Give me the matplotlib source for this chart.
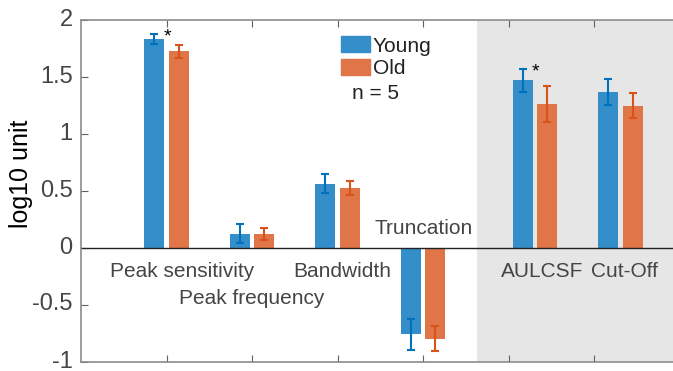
import numpy as np
import matplotlib
matplotlib.use("Agg")
import matplotlib.pyplot as plt
import matplotlib.transforms as mtransforms
from matplotlib.patches import Patch

plt.rcParams["font.family"] = ["Liberation Sans", "DejaVu Sans"]

# CSF parameters, young vs old observers (log10 units, mean +/- error)
groups = ["Peak sensitivity", "Peak frequency", "Bandwidth", "Truncation",
          "AULCSF", "Cut-Off"]
group_x = np.array([1.0, 2.0, 3.0, 4.0, 5.31, 6.31])
young_mean = np.array([1.83, 0.12, 0.56, -0.76, 1.465, 1.365])
young_err = np.array([0.041, 0.083, 0.086, 0.137, 0.098, 0.117])
old_mean = np.array([1.72, 0.12, 0.52, -0.80, 1.26, 1.245])
old_err = np.array([0.06, 0.054, 0.062, 0.111, 0.158, 0.111])
significant = ["Peak sensitivity", "AULCSF"]

# label anchor points (x, y in data units)
label_pos = {
    "Peak sensitivity": (1.18, -0.21),
    "Peak frequency": (2.0, -0.45),
    "Bandwidth": (3.05, -0.21),
    "Truncation": (4.01, 0.17),
    "AULCSF": (5.39, -0.21),
    "Cut-Off": (6.36, -0.21),
}

blue, blue_dark = "#338eca", "#0072bd"
orange, orange_dark = "#e07547", "#d95319"
text_col = "#454545"

fig = plt.figure(figsize=(6.73, 3.71), dpi=100)
ax = fig.add_axes([81 / 673, 9.5 / 371, 598.5 / 673, 342 / 371])

off, w = 0.146, 0.234
ax.axvspan(4.63, 7.0, color="#e6e6e6", zorder=0, lw=0)
ax.bar(group_x - off, young_mean, w, color=blue, zorder=2)
ax.bar(group_x + off, old_mean, w, color=orange, zorder=2)
ax.errorbar(group_x - off, young_mean, yerr=young_err, fmt="none",
            ecolor=blue_dark, elinewidth=1.5, capsize=3.2, capthick=1.5, zorder=3)
ax.errorbar(group_x + off, old_mean, yerr=old_err, fmt="none",
            ecolor=orange_dark, elinewidth=1.5, capsize=3.2, capthick=1.5, zorder=3)
ax.axhline(0, color="#222222", lw=1.0, zorder=2.5)

# significance markers just above the young error bar
for name in significant:
    i = groups.index(name)
    top = young_mean[i] + young_err[i]
    ax.text(group_x[i] + 0.01, top - 0.06, "*", ha="center", va="baseline",
            fontsize=14, color="black")

for name, (tx, ty) in label_pos.items():
    ax.text(tx, ty, name, ha="center", va="center", fontsize=15, color=text_col)

handles = [Patch(color=blue, label="Young"), Patch(color=orange, label="Old")]
leg = ax.legend(handles=handles, loc="upper left", bbox_to_anchor=(0.42, 0.975),
                frameon=False, fontsize=15, handlelength=1.4, handleheight=0.8,
                handletextpad=0.15, labelspacing=0.15, borderaxespad=0)
for t in leg.get_texts():
    t.set_color("#222222")
ax.text(3.165, 1.35, "n = 5", ha="left", va="center", fontsize=15, color="#222222")

ax.set_xlim(0, 7)
ax.set_ylim(-1, 2)
ax.set_xticks(np.arange(1, 7))
ax.set_xticklabels([])
ax.set_yticks([-1, -0.5, 0, 0.5, 1, 1.5, 2])
ax.set_yticklabels(["-1", "-0.5", "0", "0.5", "1", "1.5", "2"])
ax.tick_params(direction="in", length=5, width=0.8, color="#606060",
               top=True, right=True, labelsize=17, labelcolor=text_col, pad=6)
# nudge y tick labels up a couple of pixels so "-1" stays on the canvas
lift = mtransforms.ScaledTranslation(0, 2.5 / 100, fig.dpi_scale_trans)
for lbl in ax.get_yticklabels():
    lbl.set_transform(lbl.get_transform() + lift)
for s in ax.spines.values():
    s.set_color("#8c8c8c")
    s.set_linewidth(1.2)
ax.set_ylabel("log10 unit", fontsize=18, color="black")
ax.yaxis.set_label_coords(-0.08, 0.55)

fig.savefig("out.png", dpi=100)
